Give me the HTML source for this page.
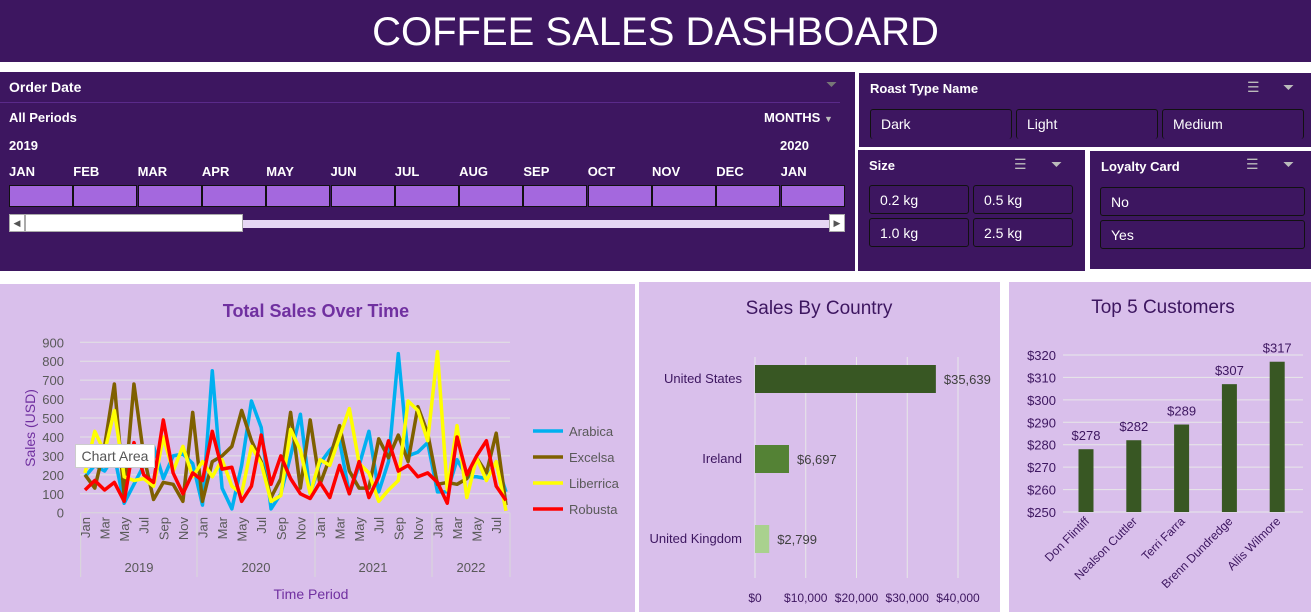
<!DOCTYPE html>
<html><head><meta charset="utf-8">
<style>
body{margin:0;width:1311px;height:612px;background:#fff;position:relative;overflow:hidden;font-family:"Liberation Sans",sans-serif}
.abs{position:absolute}
.dp{background:#3d1660;color:#fff}
.t{position:absolute;font-size:14px;font-weight:bold;color:#fff;white-space:nowrap}
.tile{position:absolute;background:#a468de;border:1px solid #111;height:20px;top:185px}
.btn{position:absolute;border:1px solid #111;border-radius:3px;color:#fff;font-size:14px;box-sizing:border-box;padding:6px 10px}
.ic{position:absolute;color:#bbb;font-size:14px}
</style></head><body>
<div class="abs dp" style="left:0;top:0;width:1311px;height:62px;text-align:center;font-size:40px;line-height:64px">COFFEE SALES DASHBOARD</div>

<div class="abs dp" style="left:0;top:72px;width:855px;height:199px">
 <div class="t" style="left:9px;top:7px">Order Date</div>
 <div class="abs" style="left:0;top:30px;width:840px;height:1px;background:#5a2a8a"></div>
 <div class="ic" style="left:826px;top:4px;color:#777">⏷</div>
 <div class="t" style="left:9px;top:38px;font-size:13px">All Periods</div>
 <div class="t" style="left:764px;top:38px;font-size:13px">MONTHS <span style="color:#bbb;font-size:9px">▼</span></div>
 <div class="t" style="left:9px;top:66px;font-size:13px">2019</div>
 <div class="t" style="left:780px;top:66px;font-size:13px">2020</div>
 <div id="months"></div>
 <div class="abs" style="left:9px;top:142px;width:836px;height:18px">
  <div class="abs" style="left:0;top:6px;width:836px;height:8px;background:#e6d6f4"></div>
  <div class="abs" style="left:0;top:0;width:16px;height:18px;background:#fff;border:1px solid #aaa;box-sizing:border-box;font-size:9px;color:#555;text-align:center;line-height:16px">◀</div>
  <div class="abs" style="left:16px;top:0;width:218px;height:18px;background:#fff;border:1px solid #aaa;box-sizing:border-box"></div>
  <div class="abs" style="left:820px;top:0;width:16px;height:18px;background:#fff;border:1px solid #aaa;box-sizing:border-box;font-size:9px;color:#555;text-align:center;line-height:16px">▶</div>
 </div>
</div>

<div class="abs dp" style="left:859px;top:73px;width:452px;height:74px">
 <div class="t" style="left:11px;top:8px;font-size:13px">Roast Type Name</div>
 <div class="ic" style="left:388px;top:6px">☰</div>
 <div class="ic" style="left:424px;top:6px">⏷</div>
 <div class="btn" style="left:11px;top:36px;width:142px;height:30px;border-bottom:none">Dark</div>
 <div class="btn" style="left:157px;top:36px;width:142px;height:30px;border-bottom:none">Light</div>
 <div class="btn" style="left:303px;top:36px;width:142px;height:30px;border-bottom:none">Medium</div>
</div>

<div class="abs dp" style="left:858px;top:150px;width:227px;height:121px">
 <div class="t" style="left:11px;top:8px;font-size:13px">Size</div>
 <div class="ic" style="left:156px;top:6px">☰</div>
 <div class="ic" style="left:193px;top:6px">⏷</div>
 <div class="btn" style="left:11px;top:35px;width:100px;height:29px">0.2 kg</div>
 <div class="btn" style="left:115px;top:35px;width:100px;height:29px">0.5 kg</div>
 <div class="btn" style="left:11px;top:68px;width:100px;height:29px">1.0 kg</div>
 <div class="btn" style="left:115px;top:68px;width:100px;height:29px">2.5 kg</div>
</div>

<div class="abs dp" style="left:1090px;top:151px;width:221px;height:118px">
 <div class="t" style="left:11px;top:8px;font-size:13px">Loyalty Card</div>
 <div class="ic" style="left:156px;top:5px">☰</div>
 <div class="ic" style="left:193px;top:5px">⏷</div>
 <div class="btn" style="left:10px;top:36px;width:205px;height:29px">No</div>
 <div class="btn" style="left:10px;top:69px;width:205px;height:29px">Yes</div>
</div>

<svg class="abs" style="left:0;top:0" width="1311" height="612" id="charts">
 <rect x="0" y="284" width="635" height="328" fill="#d9bfeb"/>
 <rect x="639" y="282" width="361" height="330" fill="#d9bfeb"/>
 <rect x="1009" y="282" width="302" height="330" fill="#d9bfeb"/>
 <g id="line"></g><g id="country"></g><g id="cust"></g>
</svg>
<div class="abs" style="left:75px;top:444px;width:78px;height:22px;background:#fff;border:1px solid #ccc;font-size:14px;color:#555;line-height:22px;text-align:center">Chart Area</div>

<script>
const monthNames=["JAN","FEB","MAR","APR","MAY","JUN","JUL","AUG","SEP","OCT","NOV","DEC","JAN"];
const tickMonths=["Jan","Mar","May","Jul","Sep","Nov"];
const years=["2019","2020","2021","2022"];
const arabica=[190,250,220,300,50,150,250,350,180,300,310,260,40,750,130,20,250,590,450,20,100,300,520,100,260,330,380,100,250,430,110,270,840,300,320,370,110,110,280,190,190,180,270,110];
const excelsa=[200,130,350,680,90,680,300,70,160,150,60,530,60,270,300,350,540,380,270,80,180,530,130,490,150,290,460,220,130,130,390,290,410,270,560,420,150,160,150,180,290,210,420,40];
const liberrica=[210,430,320,540,190,170,180,140,400,220,350,190,270,190,280,140,100,350,260,60,90,440,330,100,280,250,400,550,260,210,60,120,170,590,540,380,850,120,460,80,290,170,270,10];
const robusta=[120,170,120,160,60,370,200,160,490,210,100,210,170,430,230,240,60,140,410,150,300,180,100,75,160,80,250,100,270,80,190,380,220,250,190,210,160,50,400,200,300,380,140,65];
const seriesNames=["Arabica","Excelsa","Liberrica","Robusta"];
const seriesColors=["#00b0f0","#7f6000","#ffff00","#ff0000"];
const yTicks=[0,100,200,300,400,500,600,700,800,900];
const countries=["United States","Ireland","United Kingdom"];
const countrySales=[35639,6697,2799];
const countryTicks=[0,10000,20000,30000,40000];
const customers=["Don Flintiff","Nealson Cuttler","Terri Farra","Brenn Dundredge","Allis Wilmore"];
const custSales=[278,282,289,307,317];
const custTicks=[250,260,270,280,290,300,310,320];

const NS="http://www.w3.org/2000/svg";
function mk(p,tag,a,txt){const e=document.createElementNS(NS,tag);for(const k in a)e.setAttribute(k,a[k]);if(txt!==undefined)e.textContent=txt;p.appendChild(e);return e;}

const mc=document.getElementById('months');
monthNames.forEach((m,i)=>{
 const x=9+i*64.3;
 const l=document.createElement('div');l.className='t';l.style.left=x+'px';l.style.top='92px';l.style.fontSize='13px';l.textContent=m;
 
 
 mc.appendChild(l);
 const tl=document.createElement('div');tl.className='tile';tl.style.left=x+'px';tl.style.top='113px';tl.style.width='62px';
 
 
 mc.appendChild(tl);
});

const L=document.getElementById('line');
const x0=85,x1=506,yb=512.7,yt=342.3;
const n=robusta.length;
const xs=i=>x0+i*(x1-x0)/(n-1);
const ys=v=>yb-(v/900)*(yb-yt);
mk(L,'text',{x:316,y:317,'text-anchor':'middle','font-size':18,'font-weight':'bold',fill:'#7030a0'},'Total Sales Over Time');
yTicks.forEach(t=>{
 if(t>0)mk(L,'line',{x1:80,x2:510,y1:ys(t),y2:ys(t),stroke:'#e3e3e3','stroke-width':1});
 const tx=mk(L,'text',{x:64,y:ys(t)+5,'text-anchor':'end','font-size':13,fill:'#595959'},t);
 
 
});
mk(L,'line',{x1:80.7,x2:510,y1:yb,y2:yb,stroke:'#d9d9d9'});
const yt2=mk(L,'text',{transform:'translate(35,428) rotate(-90)','text-anchor':'middle','font-size':14,fill:'#7030a0'},'Sales (USD)');


[80.7,197,315,432,510].forEach(x=>mk(L,'line',{x1:x,x2:x,y1:yb,y2:577,stroke:'#d9d9d9'}));
years.forEach((y,i)=>{
 const c=[139,256,373,471][i];
 const e=mk(L,'text',{x:c,y:572,'text-anchor':'middle','font-size':13,fill:'#595959'},y);
 
 
});
for(let i=0;i<n;i+=2){
 const e=mk(L,'text',{transform:`translate(${xs(i)+5},517) rotate(-90)`,'text-anchor':'end','font-size':13,fill:'#595959'},tickMonths[(i/2)%6]);
 
 
}
[arabica,excelsa,liberrica,robusta].forEach((s,k)=>{
 const p=mk(L,'polyline',{points:s.map((v,i)=>xs(i)+','+ys(v)).join(' '),fill:'none',stroke:seriesColors[k],'stroke-width':3.5,'stroke-linejoin':'round'});
 
 
 const ly=431+k*26;
 const g=mk(L,'g',{});
 
 
 mk(g,'line',{x1:533,x2:563,y1:ly,y2:ly,stroke:seriesColors[k],'stroke-width':3.5});
 mk(g,'text',{x:569,y:ly+5,'font-size':13,fill:'#595959'},seriesNames[k]);
});
const xt=mk(L,'text',{x:311,y:599,'text-anchor':'middle','font-size':14,fill:'#7030a0'},'Time Period');



const C=document.getElementById('country');
const cx0=755,cx1=958;
const cxs=v=>cx0+v/40000*(cx1-cx0);
mk(C,'text',{x:819,y:314,'text-anchor':'middle','font-size':19,fill:'#3d1660'},'Sales By Country');
countryTicks.forEach(t=>{
 mk(C,'line',{x1:cxs(t),x2:cxs(t),y1:357,y2:578,stroke:'#e8e8e8'});
 const e=mk(C,'text',{x:cxs(t),y:602,'text-anchor':'middle','font-size':12,fill:'#3d1660'},'$'+t.toLocaleString('en-US'));
 
 
});
const cCols=["#385723","#548235","#a9d18e"];
countries.forEach((c,i)=>{
 const yc=379+i*80;
 const b=mk(C,'rect',{x:cx0,y:yc-14,width:cxs(countrySales[i])-cx0,height:28,fill:cCols[i]});
 
 
 mk(C,'text',{x:742,y:yc+4,'text-anchor':'end','font-size':13,fill:'#3d1660'},c);
 mk(C,'text',{x:cxs(countrySales[i])+8,y:yc+5,'font-size':13,fill:'#404040'},'$'+countrySales[i].toLocaleString('en-US'));
});

const K=document.getElementById('cust');
const ky=v=>512-(v-250)/70*(512-355);
mk(K,'text',{x:1163,y:313,'text-anchor':'middle','font-size':19,fill:'#3d1660'},'Top 5 Customers');
custTicks.forEach(t=>{
 mk(K,'line',{x1:1063,x2:1303,y1:ky(t),y2:ky(t),stroke:'#e8e8e8'});
 const e=mk(K,'text',{x:1056,y:ky(t)+5,'text-anchor':'end','font-size':13,fill:'#3d1660'},'$'+t);
 
 
});
customers.forEach((c,i)=>{
 const xc=1086+i*47.8;
 const b=mk(K,'rect',{x:xc-7.5,y:ky(custSales[i]),width:15,height:512-ky(custSales[i]),fill:'#385723'});
 
 
 mk(K,'text',{x:xc,y:ky(custSales[i])-9,'text-anchor':'middle','font-size':13,fill:'#3d1660'},'$'+custSales[i]);
 const e=mk(K,'text',{transform:`translate(${xc+4},522) rotate(-45)`,'text-anchor':'end','font-size':12,fill:'#3d1660'},c);
 
 
});
</script>
</body></html>
